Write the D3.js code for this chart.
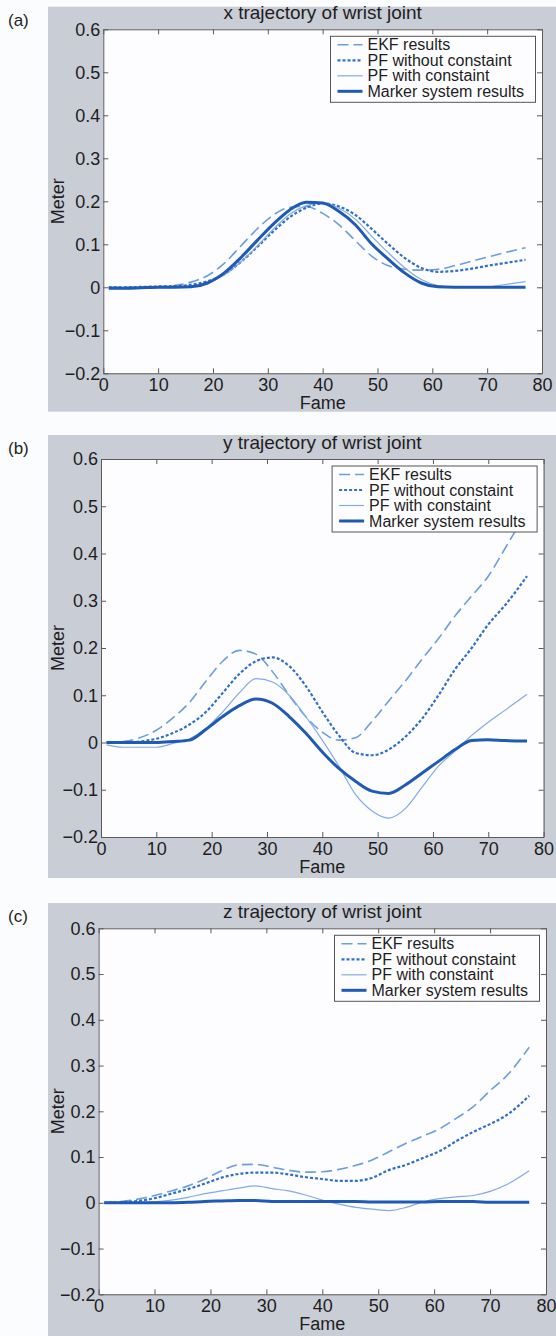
<!DOCTYPE html>
<html>
<head>
<meta charset="utf-8">
<script src="https://cdn.jsdelivr.net/npm/d3@7/dist/d3.min.js"></script>
<style>
  html, body { margin: 0; padding: 0; background: #fbfcfe; }
  svg { display: block; }
  text { font-family: "Liberation Sans", Arial, Helvetica, sans-serif; fill: #1e1e1e; }
</style>
</head>
<body>
<svg id="chart" width="556" height="1336"></svg>
<script>
// ---------------- data ----------------
const frames = [1,4,7,10,13,16,19,22,25,28,31,34,37,40,43,46,49,52,55,58,61,64,67,70,73,77];

const xEKF     = [0,0,0,0.001,0.004,0.012,0.027,0.055,0.095,0.135,0.168,0.186,0.188,0.172,0.145,0.108,0.072,0.05,0.042,0.04,0.042,0.05,0.06,0.07,0.08,0.092];
const xPFwo    = [0,0,0.001,0.002,0.003,0.006,0.014,0.03,0.058,0.093,0.13,0.163,0.185,0.195,0.188,0.168,0.135,0.1,0.068,0.045,0.036,0.038,0.043,0.05,0.056,0.064];
const xPFw     = [-0.003,-0.003,-0.002,-0.001,0,0.002,0.01,0.028,0.058,0.095,0.135,0.17,0.19,0.197,0.184,0.158,0.118,0.08,0.045,0.018,0.004,0,0,0.001,0.006,0.013];
const xMarker  = [-0.002,-0.002,-0.001,0,0,0.001,0.01,0.033,0.068,0.108,0.147,0.18,0.198,0.196,0.176,0.145,0.1,0.065,0.033,0.01,0.001,0,0,0,0,0];

const yEKF     = [0,0.002,0.01,0.026,0.052,0.085,0.13,0.172,0.195,0.187,0.15,0.1,0.055,0.022,0.005,0.01,0.045,0.088,0.13,0.176,0.22,0.268,0.31,0.352,0.41,0.49];
const yPFwo    = [0,0,0.002,0.008,0.02,0.038,0.065,0.105,0.145,0.172,0.18,0.162,0.12,0.065,0.015,-0.022,-0.027,-0.015,0.012,0.05,0.1,0.155,0.2,0.25,0.29,0.352];
const yPFw     = [-0.005,-0.01,-0.01,-0.01,-0.002,0.008,0.03,0.065,0.105,0.135,0.128,0.1,0.055,0.005,-0.05,-0.11,-0.145,-0.16,-0.14,-0.095,-0.05,-0.018,0.015,0.043,0.068,0.102];
const yMarker  = [0,0,0,0,0.002,0.005,0.028,0.055,0.078,0.092,0.083,0.055,0.02,-0.02,-0.055,-0.082,-0.103,-0.108,-0.09,-0.065,-0.04,-0.015,0.004,0.006,0.004,0.003];

const zEKF     = [0,0.003,0.008,0.016,0.026,0.037,0.052,0.07,0.083,0.084,0.078,0.071,0.067,0.068,0.073,0.082,0.094,0.112,0.13,0.146,0.162,0.185,0.21,0.245,0.278,0.34];
const zPFwo    = [0,0.001,0.004,0.01,0.02,0.03,0.042,0.055,0.063,0.066,0.066,0.062,0.056,0.052,0.048,0.048,0.055,0.072,0.083,0.098,0.113,0.135,0.155,0.172,0.192,0.234];
const zPFw     = [0,0,0,0.002,0.006,0.012,0.02,0.026,0.032,0.037,0.031,0.026,0.017,0.006,-0.003,-0.01,-0.014,-0.017,-0.01,0.002,0.009,0.013,0.016,0.025,0.04,0.07];
const zMarker  = [0,0,0,0,0,0.001,0.003,0.004,0.005,0.005,0.003,0.003,0.003,0.003,0.003,0.003,0.002,0.002,0.002,0.002,0.003,0.003,0.003,0.001,0.001,0.001];

const seriesNames = ["EKF results", "PF without constaint", "PF with constaint", "Marker system results"];
const panelLabels = ["(a)", "(b)", "(c)"];
const panelTitles = ["x trajectory of wrist joint", "y trajectory of wrist joint", "z trajectory of wrist joint"];
const xTicks = [0,10,20,30,40,50,60,70,80];
const yTicks = [-0.2,-0.1,0,0.1,0.2,0.3,0.4,0.5,0.6];
const xLabel = "Fame";
const yLabel = "Meter";

// ---------------- styles & layout ----------------
const styles = [
  { color: "#6a9ee0", width: 1.6, dash: "11,5" },
  { color: "#2f6fcb", width: 2.2, dash: "3,2" },
  { color: "#82aae6", width: 1.2, dash: null },
  { color: "#1f5bb6", width: 3.0, dash: null }
];
const layout = [
  { g0: 6.7,  g1: 411.7, left: 103.3, right: 542,   top: 29.3,  bottom: 373.3 },
  { g0: 435,  g1: 878,   left: 101,   right: 543.6, top: 459,   bottom: 837 },
  { g0: 903,  g1: 1336,  left: 98.6,  right: 546,   top: 928.3, bottom: 1294.3 }
];
const panelData = [
  [xEKF, xPFwo, xPFw, xMarker],
  [yEKF, yPFwo, yPFw, yMarker],
  [zEKF, zPFwo, zPFw, zMarker]
];

const svg = d3.select("#chart");
const fmt = v => (v < 0 ? "\u2212" + Math.abs(v) : String(v));

layout.forEach((L, p) => {
  // gray figure background
  svg.append("rect").attr("x", 48).attr("y", L.g0).attr("width", 556 - 48).attr("height", L.g1 - L.g0)
    .attr("fill", "#c9cdd5");
  // panel label
  svg.append("text").attr("x", 8).attr("y", L.g0 + (p === 0 ? 19 : 19)).attr("font-size", 17).text(panelLabels[p]);

  const x = d3.scaleLinear().domain([0, 80]).range([L.left, L.right]);
  const y = d3.scaleLinear().domain([-0.2, 0.6]).range([L.bottom, L.top]);

  // plot area
  svg.append("rect").attr("x", L.left).attr("y", L.top).attr("width", L.right - L.left).attr("height", L.bottom - L.top)
    .attr("fill", "#fdfdff");

  const g = svg.append("g");
  const clipId = "clip" + p;
  svg.append("clipPath").attr("id", clipId).append("rect")
    .attr("x", L.left).attr("y", L.top).attr("width", L.right - L.left).attr("height", L.bottom - L.top);

  const line = d3.line().x((d, i) => x(frames[i])).y(d => y(d)).curve(d3.curveMonotoneX);
  panelData[p].forEach((vals, s) => {
    const st = styles[s];
    g.append("path").attr("clip-path", `url(#${clipId})`)
      .attr("d", line(vals)).attr("fill", "none")
      .attr("stroke", st.color).attr("stroke-width", st.width)
      .attr("stroke-dasharray", st.dash).attr("stroke-linejoin", "round");
  });

  // axes
  const axCol = "#5a5a5a";
  const bottomAx = svg.append("g").attr("transform", `translate(0,${L.bottom})`)
    .call(d3.axisBottom(x).tickValues(xTicks).tickFormat(d => String(d)).tickSizeInner(-5).tickSizeOuter(0).tickPadding(5));
  const topAx = svg.append("g").attr("transform", `translate(0,${L.top})`)
    .call(d3.axisTop(x).tickValues(xTicks).tickFormat("").tickSizeInner(-5).tickSizeOuter(0));
  const leftAx = svg.append("g").attr("transform", `translate(${L.left},0)`)
    .call(d3.axisLeft(y).tickValues(yTicks).tickFormat(fmt).tickSizeInner(-5).tickSizeOuter(0).tickPadding(3));
  const rightAx = svg.append("g").attr("transform", `translate(${L.right},0)`)
    .call(d3.axisRight(y).tickValues(yTicks).tickFormat("").tickSizeInner(-5).tickSizeOuter(0));
  [bottomAx, topAx, leftAx, rightAx].forEach(a => {
    a.select(".domain").attr("stroke", axCol);
    a.selectAll(".tick line").attr("stroke", axCol);
    a.selectAll(".tick text").attr("font-size", 18).attr("fill", "#1e1e1e")
      .attr("font-family", '"Liberation Sans", Arial, sans-serif');
  });

  // title and axis labels
  const cx = (L.left + L.right) / 2;
  svg.append("text").attr("x", cx).attr("y", L.top - 10).attr("text-anchor", "middle").attr("font-size", 19).text(panelTitles[p]);
  svg.append("text").attr("x", cx).attr("y", L.bottom + 36).attr("text-anchor", "middle").attr("font-size", 18).text(xLabel);
  svg.append("text").attr("transform", `translate(${64},${(L.top + L.bottom) / 2}) rotate(-90)`)
    .attr("text-anchor", "middle").attr("font-size", 18).text(yLabel);

  // legend
  const bx1 = L.right - 6.5, bx0 = bx1 - 205, by0 = L.top + 7;
  const lg = svg.append("g");
  lg.append("rect").attr("x", bx0).attr("y", by0).attr("width", bx1 - bx0).attr("height", 66)
    .attr("fill", "#fdfdff").attr("stroke", "#555").attr("stroke-width", 1);
  seriesNames.forEach((name, s) => {
    const cy = by0 + 8.5 + 15.5 * s;
    const st = styles[s];
    lg.append("line").attr("x1", bx0 + 7).attr("x2", bx0 + 32).attr("y1", cy).attr("y2", cy)
      .attr("stroke", st.color).attr("stroke-width", st.width).attr("stroke-dasharray", st.dash);
    lg.append("text").attr("x", bx0 + 37).attr("y", cy + 5.5).attr("font-size", 16).text(name);
  });
});
</script>
</body>
</html>
